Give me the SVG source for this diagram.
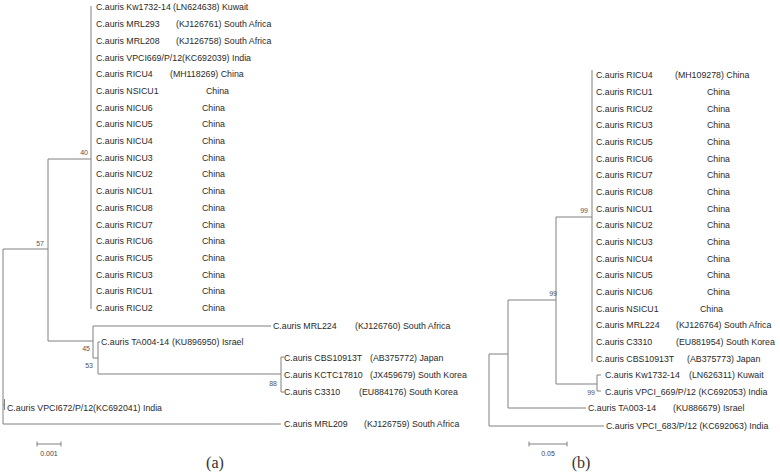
<svg xmlns="http://www.w3.org/2000/svg" width="780" height="472" viewBox="0 0 780 472">
<style>
.t{font-family:"Liberation Sans",Arial,sans-serif;font-size:8.8px;fill:#2a2a2a}
.b{font-family:"Liberation Sans",Arial,sans-serif;font-size:7px;fill:#555}
.s{font-family:"Liberation Sans",Arial,sans-serif;font-size:7px;fill:#444}
.p{font-family:"Liberation Serif","Times New Roman",serif;font-size:16px;fill:#333}
.e{fill:none;stroke:#808080;stroke-width:1}
</style>
<rect width="780" height="472" fill="#fff"/>
<g id="connectors" class="e">
<path d="M91,6V309M48,159H91M48,159V341M3,249H48M48,341H93M93,326V358M93,326H271M93,358H98M98,342V374M98,342H100M98,374H281M281,357V392M281,357H284M281,392H284M3,249V424M3,424H281M4.5,399V410M3,405H5"/>
<path d="M592,70V362M556,217H592M556,217V384M556,384H597M597,375V391M597,375H601M597,391H601M508,300H556M508,300V408M508,408H586M489,354H508M489,354V426M489,426H604"/>
<path d="M37,444H61M37,441.5V446.5M61,441.5V446.5M529,444H567M529,441.5V446.5M567,441.5V446.5"/>
</g>
<g id="tree-a">
<g id="a-Kw1732"><text class="t" x="96" y="10">C.auris Kw1732-14</text><text class="t" x="173" y="10">(LN624638) Kuwait</text></g>
<g id="a-MRL293"><text class="t" x="96" y="27">C.auris MRL293</text><text class="t" x="176" y="27">(KJ126761) South Africa</text></g>
<g id="a-MRL208"><text class="t" x="96" y="44">C.auris MRL208</text><text class="t" x="176" y="44">(KJ126758) South Africa</text></g>
<g id="a-VPCI669"><text class="t" x="96" y="60.5">C.auris VPCI669/P/12(KC692039) India</text></g>
<g id="a-RICU4"><text class="t" x="96" y="77">C.auris RICU4</text><text class="t" x="170" y="77">(MH118269) China</text></g>
<g id="a-NSICU1"><text class="t" x="96" y="94">C.auris NSICU1</text><text class="t" x="206" y="94">China</text></g>
<g id="a-NICU6"><text class="t" x="96" y="110.5">C.auris NICU6</text><text class="t" x="202" y="110.5">China</text></g>
<g id="a-NICU5"><text class="t" x="96" y="127">C.auris NICU5</text><text class="t" x="202" y="127">China</text></g>
<g id="a-NICU4"><text class="t" x="96" y="144">C.auris NICU4</text><text class="t" x="202" y="144">China</text></g>
<g id="a-NICU3"><text class="t" x="96" y="160.5">C.auris NICU3</text><text class="t" x="202" y="160.5">China</text></g>
<g id="a-NICU2"><text class="t" x="96" y="177">C.auris NICU2</text><text class="t" x="202" y="177">China</text></g>
<g id="a-NICU1"><text class="t" x="96" y="194">C.auris NICU1</text><text class="t" x="202" y="194">China</text></g>
<g id="a-RICU8"><text class="t" x="96" y="211">C.auris RICU8</text><text class="t" x="202" y="211">China</text></g>
<g id="a-RICU7"><text class="t" x="96" y="227.5">C.auris RICU7</text><text class="t" x="202" y="227.5">China</text></g>
<g id="a-RICU6"><text class="t" x="96" y="244">C.auris RICU6</text><text class="t" x="202" y="244">China</text></g>
<g id="a-RICU5"><text class="t" x="96" y="261">C.auris RICU5</text><text class="t" x="202" y="261">China</text></g>
<g id="a-RICU3"><text class="t" x="96" y="277.5">C.auris RICU3</text><text class="t" x="202" y="277.5">China</text></g>
<g id="a-RICU1"><text class="t" x="96" y="294">C.auris RICU1</text><text class="t" x="202" y="294">China</text></g>
<g id="a-RICU2"><text class="t" x="96" y="311">C.auris RICU2</text><text class="t" x="202" y="311">China</text></g>
<g id="a-MRL224"><text class="t" x="273" y="329">C.auris MRL224</text><text class="t" x="355" y="329">(KJ126760) South Africa</text></g>
<g id="a-TA004"><text class="t" x="101" y="345">C.auris TA004-14</text><text class="t" x="172" y="345">(KU896950) Israel</text></g>
<g id="a-CBS"><text class="t" x="284" y="361">C.auris CBS10913T</text><text class="t" x="370" y="361">(AB375772) Japan</text></g>
<g id="a-KCTC"><text class="t" x="284" y="378">C.auris KCTC17810</text><text class="t" x="370" y="378">(JX459679) South Korea</text></g>
<g id="a-C3310"><text class="t" x="284" y="395">C.auris C3310</text><text class="t" x="359" y="395">(EU884176) South Korea</text></g>
<g id="a-VPCI672"><text class="t" x="7" y="411">C.auris VPCI672/P/12(KC692041) India</text></g>
<g id="a-MRL209"><text class="t" x="284" y="427">C.auris MRL209</text><text class="t" x="364" y="427">(KJ126759) South Africa</text></g>
<g id="a-boot"><text class="b" x="88" y="155" text-anchor="end">40</text><text class="b" x="44" y="246" text-anchor="end">57</text><text class="b" x="90" y="351" text-anchor="end">45</text><text class="b" x="93" y="368" text-anchor="end">53</text><text class="b" x="277" y="386" text-anchor="end">88</text></g>
<g id="a-scale"><text class="s" x="49" y="456" text-anchor="middle">0.001</text></g>
<text class="p" x="215" y="468" text-anchor="middle">(a)</text>
</g>
<g id="tree-b">
<g id="b-RICU4"><text class="t" x="596" y="78">C.auris RICU4</text><text class="t" x="675" y="78">(MH109278) China</text></g>
<g id="b-RICU1"><text class="t" x="596" y="95">C.auris RICU1</text><text class="t" x="707" y="95">China</text></g>
<g id="b-RICU2"><text class="t" x="596" y="111.5">C.auris RICU2</text><text class="t" x="707" y="111.5">China</text></g>
<g id="b-RICU3"><text class="t" x="596" y="128">C.auris RICU3</text><text class="t" x="707" y="128">China</text></g>
<g id="b-RICU5"><text class="t" x="596" y="145">C.auris RICU5</text><text class="t" x="707" y="145">China</text></g>
<g id="b-RICU6"><text class="t" x="596" y="161.5">C.auris RICU6</text><text class="t" x="707" y="161.5">China</text></g>
<g id="b-RICU7"><text class="t" x="596" y="178">C.auris RICU7</text><text class="t" x="707" y="178">China</text></g>
<g id="b-RICU8"><text class="t" x="596" y="195">C.auris RICU8</text><text class="t" x="707" y="195">China</text></g>
<g id="b-NICU1"><text class="t" x="596" y="211.5">C.auris NICU1</text><text class="t" x="707" y="211.5">China</text></g>
<g id="b-NICU2"><text class="t" x="596" y="228">C.auris NICU2</text><text class="t" x="707" y="228">China</text></g>
<g id="b-NICU3"><text class="t" x="596" y="245">C.auris NICU3</text><text class="t" x="707" y="245">China</text></g>
<g id="b-NICU4"><text class="t" x="596" y="261.5">C.auris NICU4</text><text class="t" x="707" y="261.5">China</text></g>
<g id="b-NICU5"><text class="t" x="596" y="278">C.auris NICU5</text><text class="t" x="707" y="278">China</text></g>
<g id="b-NICU6"><text class="t" x="596" y="295">C.auris NICU6</text><text class="t" x="707" y="295">China</text></g>
<g id="b-NSICU1"><text class="t" x="596" y="311.5">C.auris NSICU1</text><text class="t" x="700" y="311.5">China</text></g>
<g id="b-MRL224"><text class="t" x="596" y="328">C.auris MRL224</text><text class="t" x="676" y="328">(KJ126764) South Africa</text></g>
<g id="b-C3310"><text class="t" x="596" y="345">C.auris C3310</text><text class="t" x="676" y="345">(EU881954) South Korea</text></g>
<g id="b-CBS"><text class="t" x="596" y="361.5">C.auris CBS10913T</text><text class="t" x="687" y="361.5">(AB375773) Japan</text></g>
<g id="b-Kw1732"><text class="t" x="605" y="378">C.auris Kw1732-14</text><text class="t" x="689" y="378">(LN626311) Kuwait</text></g>
<g id="b-VPCI669"><text class="t" x="605" y="394.5">C.auris VPCI_669/P/12 (KC692053) India</text></g>
<g id="b-TA003"><text class="t" x="588" y="411">C.auris TA003-14</text><text class="t" x="673" y="411">(KU886679) Israel</text></g>
<g id="b-VPCI683"><text class="t" x="606" y="429">C.auris VPCI_683/P/12 (KC692063) India</text></g>
<g id="b-boot"><text class="b" x="588" y="213" text-anchor="end">99</text><text class="b" x="557" y="296" text-anchor="end">99</text><text class="b" x="595" y="395" text-anchor="end">99</text></g>
<g id="b-scale"><text class="s" x="548" y="456" text-anchor="middle">0.05</text></g>
<text class="p" x="581" y="468" text-anchor="middle">(b)</text>
</g>
</svg>
